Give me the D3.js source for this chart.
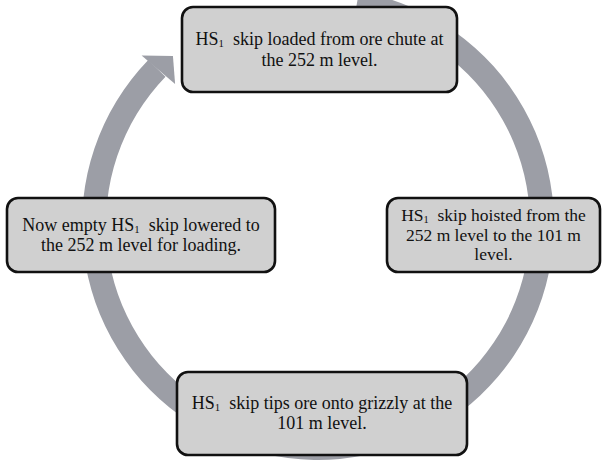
<!DOCTYPE html>
<html>
<head>
<meta charset="utf-8">
<script src="https://cdn.jsdelivr.net/npm/d3@7"></script>
<style>
  html, body { margin: 0; padding: 0; background: #fff; }
  svg { display: block; }
</style>
</head>
<body>
<script>
// ---- data ----
const stepIds = ["load", "hoist", "tip", "lower"];
const stepLines = [
  [["HS", "1", " skip loaded from ore chute at"], ["the 252 m level."]],
  [["HS", "1", " skip hoisted from the"], ["252 m level to the 101 m"], ["level."]],
  [["HS", "1", " skip tips ore onto grizzly at the"], ["101 m level."]],
  [["Now empty HS", "1", " skip lowered to"], ["the 252 m level for loading."]]
];
const stepAngles = [0, 90, 180, 270]; // position of each step on the cycle (degrees, clockwise from top)

// ---- layout ----
const W = 603, H = 464;
const cx = 318, cy = 224, ringR = 224, ringW = 24;
const boxes = [
  {x: 182, y: 7,   w: 275, h: 85, fs: 18, lh: 20.5},
  {x: 387, y: 198, w: 213, h: 74, fs: 17.5, lh: 19.5},
  {x: 177, y: 372, w: 290, h: 83, fs: 18, lh: 20},
  {x: 7,   y: 198, w: 268, h: 74, fs: 18, lh: 20}
];

const svg = d3.select("body").append("svg").attr("width", W).attr("height", H);

const angle = d3.scaleLinear().domain([0, 360]).range([0, 2 * Math.PI]);
const arrowBase = 314; // degrees where the arrowhead begins
const g = svg.append("g").attr("transform", `translate(${cx},${cy})`);

g.append("path")
  .attr("d", d3.arc().innerRadius(ringR - ringW / 2).outerRadius(ringR + ringW / 2)
    .startAngle(angle(stepAngles[0] + 10)).endAngle(angle(arrowBase))())
  .attr("fill", "#9c9ea6");

// arrowhead
function pt(r, deg) { const a = angle(deg); return [r * Math.sin(a), -r * Math.cos(a)]; }
const head = [pt(ringR + 20, arrowBase - 0.3), pt(ringR - 2, arrowBase + 5.2), pt(ringR - 24, arrowBase + 0.4)];
g.append("path").attr("d", d3.line()(head) + "Z").attr("fill", "#9c9ea6");

// boxes
stepIds.forEach((id, i) => {
  const b = boxes[i];
  const bg = svg.append("g").attr("class", "step-" + id);
  bg.append("rect").attr("x", b.x).attr("y", b.y).attr("width", b.w).attr("height", b.h)
    .attr("rx", 11).attr("ry", 11)
    .attr("fill", "#d0d0d0").attr("stroke", "#111").attr("stroke-width", 2.6);
  const lines = stepLines[i];
  const midY = b.y + b.h / 2;
  const top = midY - (lines.length - 1) * b.lh / 2;
  const t = bg.append("text")
    .attr("text-anchor", "middle")
    .attr("font-family", "'Liberation Serif', 'Times New Roman', serif")
    .attr("font-size", b.fs).attr("fill", "#111");
  lines.forEach((parts, li) => {
    const line = t.append("tspan").attr("x", b.x + b.w / 2).attr("y", top + li * b.lh + b.fs * 0.33);
    if (parts.length === 1) { line.text(parts[0]); return; }
    line.append("tspan").text(parts[0]);
    line.append("tspan").attr("font-size", b.fs * 0.6).attr("dy", 2).text(parts[1]);
    line.append("tspan").attr("dy", -2).text("\u00a0" + parts[2]);
  });
});
</script>
</body>
</html>
